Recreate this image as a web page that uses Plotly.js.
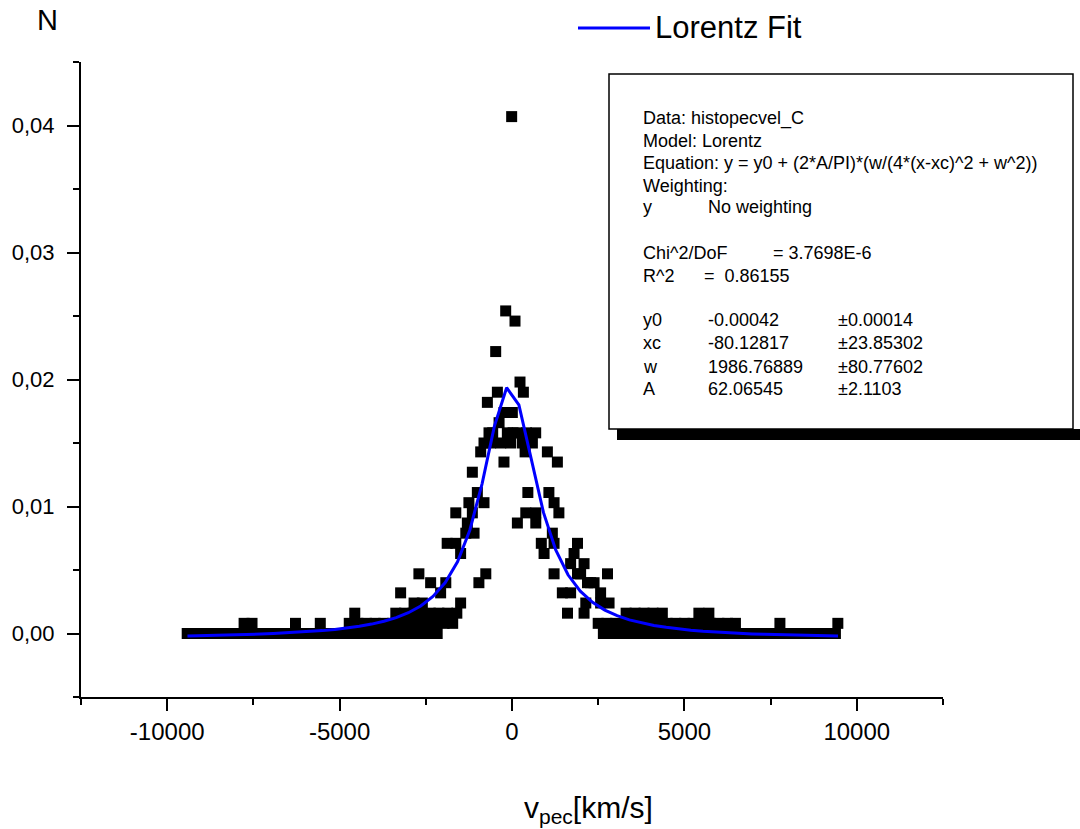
<!DOCTYPE html>
<html>
<head>
<meta charset="utf-8">
<script src="https://cdn.plot.ly/plotly-3.0.1.min.js"></script>
<style>html,body{margin:0;padding:0;background:#fff;}#chart{width:1080px;height:829px;}</style>
</head>
<body>
<div id="chart"></div>
<script>
// ---- Histogram points (peculiar velocity bins, normalized counts N) ----
const velocity = [
  // N = 0 (left tail)
  -9420,-9170,-8920,-8670,-8420,-8170,-7920,-7670,-7420,-7170,-6920,-6670,-6420,-6170,-5920,-5670,-5420,-5170,-4920,-4670,-4420,-4170,-3920,-3670,-3420,-3170,-2920,-2670,-2420,-2170,
  // N = 0 (right tail)
  2650,2900,3150,3400,3650,3900,4150,4400,4650,4900,5150,5400,5650,5900,6150,6400,6650,6900,7150,7400,7650,7900,8150,8400,8650,8900,9150,9380,
  // N ~ 0.0008
  -7770,-7540,-6280,-5560,-4720,-4470,-4220,-3970,-3720,-3470,-3220,-2970,-2720,-2470,-2220,-1970,-1720,
  2500,2750,3000,3250,3500,3750,4000,4250,4500,4750,5000,5250,5500,5750,6000,6250,6480,7770,9450,
  // N ~ 0.0016
  -4560,-3370,-3120,-2870,-2620,-2370,-2120,-1870,-1600,1610,2090,3310,3570,3830,4090,4360,5420,5710,
  // N ~ 0.0024
  -2840,-2600,-1490,2140,2570,2815,
  // N ~ 0.0032
  -3230,-2070,1460,1700,2570,
  // N ~ 0.0040
  -2360,-1920,-960,2190,2280,2380,
  // N ~ 0.0047
  -2700,-760,1220,1900,1990,2770,
  // N ~ 0.0055
  1700,2090,
  // N ~ 0.0063
  -1490,930,1800,
  // N ~ 0.0071
  -1880,-1630,850,1220,1900,
  // N ~ 0.0079
  -1340,-1100,1170,
  // N ~ 0.0087
  -1295,156,690,
  // N ~ 0.0095
  -1630,-1150,400,690,1360,
  // N ~ 0.0103
  -1250,-812,1220,
  // N ~ 0.0111
  -1005,460,1070,
  // N ~ 0.0127
  -1150,
  // N ~ 0.0135
  -233,1316,
  // N ~ 0.0143
  -908,380,1026,
  // N ~ 0.0150
  -812,-620,-328,-38,301,591,
  // N ~ 0.0158
  -667,-560,-135,30,156,420,687,
  // upper points
  -375,-233,10,-714,-424,330,232,-473,87,-183,-10
];
const fraction = [
  0,0,0,0,0,0,0,0,0,0,0,0,0,0,0,0,0,0,0,0,0,0,0,0,0,0,0,0,0,0,
  0,0,0,0,0,0,0,0,0,0,0,0,0,0,0,0,0,0,0,0,0,0,0,0,0,0,0,0,
  0.0008,0.0008,0.0008,0.0008,0.0008,0.0008,0.0008,0.0008,0.0008,0.0008,0.0008,0.0008,0.0008,0.0008,0.0008,0.0008,0.0008,
  0.0008,0.0008,0.0008,0.0008,0.0008,0.0008,0.0008,0.0008,0.0008,0.0008,0.0008,0.0008,0.0008,0.0008,0.0008,0.0008,0.0008,0.0008,0.0008,
  0.0016,0.0016,0.0016,0.0016,0.0016,0.0016,0.0016,0.0016,0.0016,0.0016,0.0016,0.0016,0.0016,0.0016,0.0016,0.0016,0.0016,0.0016,
  0.0024,0.0024,0.0024,0.0024,0.0024,0.0024,
  0.0032,0.0032,0.0032,0.0032,0.0032,
  0.0040,0.0040,0.0040,0.0040,0.0040,0.0040,
  0.0047,0.0047,0.0047,0.0047,0.0047,0.0047,
  0.0055,0.0055,
  0.0063,0.0063,0.0063,
  0.0071,0.0071,0.0071,0.0071,0.0071,
  0.0079,0.0079,0.0079,
  0.0087,0.0087,0.0087,
  0.0095,0.0095,0.0095,0.0095,0.0095,
  0.0103,0.0103,0.0103,
  0.0111,0.0111,0.0111,
  0.0127,
  0.0135,0.0135,
  0.0143,0.0143,0.0143,
  0.0150,0.0150,0.0150,0.0150,0.0150,0.0150,
  0.0158,0.0158,0.0158,0.0158,0.0158,0.0158,0.0158,
  0.0166,0.0174,0.0174,0.0182,0.0190,0.0190,0.0198,0.0222,0.0246,0.0254,0.0407
];

// ---- Lorentz fit curve ----
const fitVelocity = [-9412,-9056,-8700,-8344,-7988,-7632,-7276,-6920,-6564,-6208,-5852,-5496,-5140,-4784,-4428,-4072,-3716,-3360,-3004,-2648,-2292,-1936,-1580,-1224,-868,-512,-156,200,556,912,1268,1624,1980,2336,2692,3048,3404,3760,4116,4472,4828,5184,5540,5896,6252,6608,6964,7320,7676,8032,8388,8744,9100,9456];
const fitN = [-0.000197,-0.000179,-0.000159,-0.000137,-0.000111,-0.000082,-0.000048,-0.000009,0.000036,0.000089,0.000152,0.000227,0.000318,0.000429,0.000567,0.000740,0.000961,0.001251,0.001638,0.002169,0.002918,0.004009,0.005644,0.008131,0.011788,0.016307,0.019353,0.018003,0.013684,0.009537,0.006579,0.004624,0.003332,0.002456,0.001843,0.001402,0.001075,0.000827,0.000635,0.000484,0.000363,0.000264,0.000183,0.000115,0.000058,0.000009,-0.000032,-0.000068,-0.000099,-0.000126,-0.000150,-0.000171,-0.000190,-0.000206];

// ---- Axis ticks ----
const xTickVals = [-10000,-5000,0,5000,10000];
const xTickText = ['-10000','-5000','0','5000','10000'];
const xMinorVals = [-12500,-7500,-2500,2500,7500,12500];
const yTickVals = [0,0.01,0.02,0.03,0.04];
const yTickText = ['0,00','0,01','0,02','0,03','0,04'];
const yMinorVals = [-0.005,0.005,0.015,0.025,0.035,0.045];

// ---- Fit report text ----
const reportHeader = ['Data: histopecvel_C','Model: Lorentz','Equation: y = y0 + (2*A/PI)*(w/(4*(x-xc)^2 + w^2))','Weighting:','y'];
const weightingText = 'No weighting';
const chiLabel = 'Chi^2/DoF';
const chiValue = '= 3.7698E-6';
const r2Label = 'R^2';
const r2Value = '=\u00a0\u00a00.86155';
const paramNames = ['y0','xc','w','A'];
const paramValues = ['-0.00042','-80.12817','1986.76889','62.06545'];
const paramErrors = ['\u00b10.00014','\u00b123.85302','\u00b180.77602','\u00b12.1103'];
const legendLabel = 'Lorentz Fit';

// ---- layout helpers (pixel -> paper) ----
const M = {l:81, r:137, t:62, b:132};
const W = 1080, H = 829;
const PW = W - M.l - M.r, PH = H - M.t - M.b;
const px = v => (v - M.l) / PW;
const py = v => (H - M.b - v) / PH;
const FONT = 'Liberation Sans, Arial, sans-serif';

const traces = [
  {x: velocity, y: fraction, type: 'scatter', mode: 'markers', name: 'histopecvel_C',
   marker: {symbol: 'square', size: 11, color: '#000000'}, showlegend: false},
  {x: fitVelocity, y: fitN, type: 'scatter', mode: 'lines', name: legendLabel,
   line: {color: '#0000ff', width: 3}, showlegend: false}
];

const annotations = [];
const txt = (text, xp, yp, size, anchor) => annotations.push({
  text, x: px(xp), y: py(yp), xref: 'paper', yref: 'paper', showarrow: false,
  xanchor: anchor || 'left', yanchor: 'middle', font: {family: FONT, size: size, color: '#000'}
});
// report box lines
const BOX_FS = 18;
const headerY = [118, 140.5, 163, 185.5, 207.5];
reportHeader.forEach((t, i) => txt(t, 641, headerY[i], BOX_FS));
txt(weightingText, 706, 207.5, BOX_FS);
txt(chiLabel, 641, 252.7, BOX_FS);
txt(chiValue, 771, 252.7, BOX_FS);
txt(r2Label, 641, 275.7, BOX_FS);
txt(r2Value, 702, 275.7, BOX_FS);
const paramY = [320, 343.3, 366.7, 389.3];
paramNames.forEach((t, i) => {
  txt(t, 641, paramY[i], BOX_FS);
  txt(paramValues[i], 706, paramY[i], BOX_FS);
  txt(paramErrors[i], 836, paramY[i], BOX_FS);
});
// axis titles & legend
txt('N', 47, 20, 29, 'center');
txt('v<sub>pec</sub>[km/s]', 522, 809, 30);
txt(legendLabel, 653, 28, 31);

const shapes = [
  {type: 'rect', xref: 'paper', yref: 'paper', x0: px(617), x1: px(1090), y0: py(429), y1: py(440),
   fillcolor: '#000', line: {width: 0}},
  {type: 'rect', xref: 'paper', yref: 'paper', x0: px(609), x1: px(1073), y0: py(74), y1: py(429),
   fillcolor: '#fff', line: {color: '#000', width: 1.5}},
  {type: 'line', xref: 'paper', yref: 'paper', x0: px(578), x1: px(650), y0: py(28), y1: py(28),
   line: {color: '#0000ff', width: 3}}
];

const axisCommon = {
  showline: true, linewidth: 2, linecolor: '#000', ticks: 'outside', ticklen: 12, tickwidth: 2,
  tickcolor: '#000', showgrid: false, zeroline: false, tickmode: 'array'
};

const layout = {
  width: W, height: H, margin: M, paper_bgcolor: '#fff', plot_bgcolor: '#fff',
  showlegend: false, separators: ',.',
  xaxis: Object.assign({}, axisCommon, {range: [-12500, 12500], tickvals: xTickVals, ticktext: xTickText,
    ticklabelstandoff: 0, tickfont: {family: FONT, size: 24, color: '#000'},
    minor: {tickmode: 'array', tickvals: xMinorVals, ticks: 'outside', ticklen: 6, tickwidth: 2, tickcolor: '#000'}}),
  yaxis: Object.assign({}, axisCommon, {range: [-0.005, 0.045], tickvals: yTickVals, ticktext: yTickText,
    ticklabelstandoff: 8, tickfont: {family: FONT, size: 22, color: '#000'},
    minor: {tickmode: 'array', tickvals: yMinorVals, ticks: 'outside', ticklen: 6, tickwidth: 2, tickcolor: '#000'}}),
  annotations, shapes
};

Plotly.newPlot('chart', traces, layout, {displayModeBar: false, staticPlot: true});
</script>
</body>
</html>
